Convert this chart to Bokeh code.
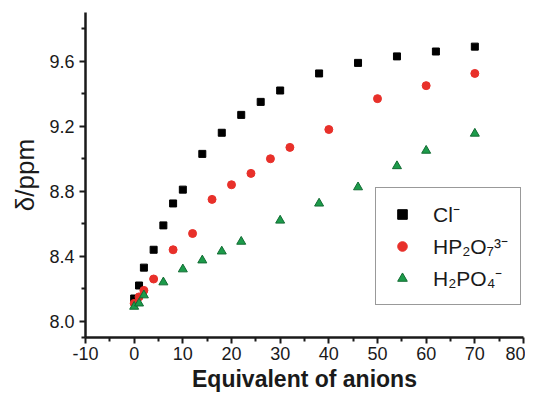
from bokeh.plotting import figure
from bokeh.models import Legend, LegendItem, Range1d, FixedTicker, PrintfTickFormatter
from bokeh.embed import file_html
from bokeh.resources import INLINE

# Data
cl_x = [0, 1, 2, 4, 6, 8, 10, 14, 18, 22, 26, 30, 38, 46, 54, 62, 70]
cl_y = [8.14, 8.22, 8.33, 8.44, 8.59, 8.725, 8.81, 9.03, 9.16, 9.27, 9.35, 9.42, 9.525, 9.59, 9.63, 9.66, 9.69]

hp2o7_x = [0, 1, 2, 4, 8, 12, 16, 20, 24, 28, 32, 40, 50, 60, 70]
hp2o7_y = [8.11, 8.15, 8.19, 8.26, 8.44, 8.54, 8.75, 8.84, 8.91, 9.0, 9.07, 9.18, 9.37, 9.45, 9.525]

h2po4_x = [0, 1, 2, 6, 10, 14, 18, 22, 30, 38, 46, 54, 60, 70]
h2po4_y = [8.09, 8.11, 8.16, 8.24, 8.32, 8.375, 8.43, 8.49, 8.62, 8.725, 8.825, 8.955, 9.05, 9.155]

x_ticks = [-10, 0, 10, 20, 30, 40, 50, 60, 70, 80]
x_minor = [-5, 5, 15, 25, 35, 45, 55, 65, 75]
y_ticks = [8.0, 8.4, 8.8, 9.2, 9.6]
y_minor = [7.9, 8.2, 8.6, 9.0, 9.4, 9.8]

FONT = "Liberation Sans"

p = figure(width=525, height=394, output_backend="svg", toolbar_location=None,
           x_range=Range1d(-10, 80), y_range=Range1d(7.9, 9.9),
           min_border_left=85, min_border_right=2, min_border_top=12, min_border_bottom=55)

p.outline_line_color = None
p.xgrid.visible = False
p.ygrid.visible = False
p.background_fill_color = "white"
p.border_fill_color = "white"

for ax in (p.xaxis[0], p.yaxis[0]):
    ax.axis_line_width = 2.5
    ax.axis_line_color = "#1a1a1a"
    ax.major_tick_line_width = 2
    ax.minor_tick_line_width = 2
    ax.major_tick_line_color = "#1a1a1a"
    ax.minor_tick_line_color = "#1a1a1a"
    ax.major_tick_out = 6
    ax.major_tick_in = 0
    ax.minor_tick_out = 4
    ax.minor_tick_in = 0
    ax.major_label_text_font = FONT
    ax.major_label_text_font_size = "18px"
    ax.major_label_text_color = "#1a1a1a"
    ax.axis_label_text_font = FONT
    ax.axis_label_text_color = "#1a1a1a"

p.xaxis.major_label_standoff = 3
p.yaxis.major_label_standoff = 5
p.xaxis.ticker = FixedTicker(ticks=x_ticks, minor_ticks=x_minor)
p.yaxis.ticker = FixedTicker(ticks=y_ticks, minor_ticks=y_minor)
p.yaxis.formatter = PrintfTickFormatter(format="%.1f")
p.xaxis.formatter = PrintfTickFormatter(format="%d")
p.xaxis.axis_label = "Equivalent of anions"
p.xaxis.axis_label_text_font_style = "bold"
p.xaxis.axis_label_text_font_size = "23px"
p.xaxis.axis_label_standoff = 3
p.yaxis.axis_label = "δ/ppm"
p.yaxis.axis_label_text_font_style = "normal"
p.yaxis.axis_label_text_font_size = "26px"
p.yaxis.axis_label_standoff = 6

r1 = p.scatter(cl_x, cl_y, marker="square", size=7, fill_color="black", line_color="black")
r2 = p.scatter(hp2o7_x, hp2o7_y, marker="circle", size=8, fill_color="#e8302a", line_color="#e8302a")
r3 = p.scatter(h2po4_x, h2po4_y, marker="triangle", size=9, fill_color="#1c9b4a", line_color="#126b33")

legend = Legend(items=[
    LegendItem(label="Cl\u207b", renderers=[r1]),
    LegendItem(label="HP\u2082O\u2087\u00b3\u207b", renderers=[r2]),
    LegendItem(label="H\u2082PO\u2084\u207b", renderers=[r3]),
], location=(290, 32))
legend.border_line_color = "#333333"
legend.border_line_width = 1.5
legend.background_fill_alpha = 1
legend.label_text_font = FONT
legend.label_text_font_size = "21px"
legend.label_text_color = "#1a1a1a"
legend.padding = 12
legend.spacing = 4
legend.label_height = 24
legend.glyph_height = 24
legend.glyph_width = 28
legend.label_standoff = 17
legend.margin = 0
p.add_layout(legend)

open("out.html", "w").write(file_html(p, INLINE))
